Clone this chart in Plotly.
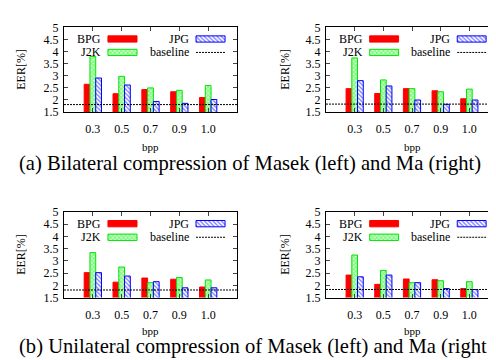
import plotly.graph_objects as go

categories = ["0.3", "0.5", "0.7", "0.9", "1.0"]
series_names = ["BPG", "J2K", "JPG"]

bil_masek_bpg = [2.65, 2.26, 2.43, 2.34, 2.10]
bil_masek_j2k = [3.80, 2.98, 2.50, 2.40, 2.60]
bil_masek_jpg = [2.91, 2.62, 1.94, 1.86, 2.02]
bil_masek_base = 1.81

bil_ma_bpg = [2.47, 2.27, 2.47, 2.38, 2.05]
bil_ma_j2k = [3.74, 2.83, 2.47, 2.34, 2.45]
bil_ma_jpg = [2.80, 2.58, 2.00, 1.82, 2.00]
bil_ma_base = 1.83

uni_masek_bpg = [2.52, 2.13, 2.30, 2.25, 1.93]
uni_masek_j2k = [3.34, 2.75, 2.11, 2.32, 2.22]
uni_masek_jpg = [2.52, 2.38, 2.15, 1.90, 1.90]
uni_masek_base = 1.81

uni_ma_bpg = [2.42, 2.04, 2.26, 2.23, 1.87]
uni_ma_j2k = [3.24, 2.61, 2.11, 2.19, 2.15]
uni_ma_jpg = [2.35, 2.42, 2.11, 1.87, 1.83]
uni_ma_base = 1.83

y_ticks = [1.5, 2, 2.5, 3, 3.5, 4, 4.5, 5]
y_tick_labels = ["1.5", "2", "2.5", "3", "3.5", "4", "4.5", "5"]

captions = ["(a) Bilateral compression of Masek (left) and Ma (right)",
            "(b) Unilateral compression of Masek (left) and Ma (right"]

panels = [
    (bil_masek_bpg, bil_masek_j2k, bil_masek_jpg, bil_masek_base),
    (bil_ma_bpg, bil_ma_j2k, bil_ma_jpg, bil_ma_base),
    (uni_masek_bpg, uni_masek_j2k, uni_masek_jpg, uni_masek_base),
    (uni_ma_bpg, uni_ma_j2k, uni_ma_jpg, uni_ma_base),
]

W, H = 496, 360
FONT = "Liberation Serif"

# pixel frames (left, right, top, bottom)
frames = [(56, 229, 13, 101), (318, 490, 13, 101),
          (56, 229, 205, 294), (318, 490, 205, 294)]

RED = "#ff0000"
GREEN = "#00e600"
BLUE = "#0000ff"

def style(name):
    if name == "BPG":
        return dict(color=RED, line=dict(color=RED, width=1))
    if name == "J2K":
        return dict(color="#ccffcc", line=dict(color=GREEN, width=1),
                    pattern=dict(shape="x", fgcolor="#22ee22", bgcolor="#d8ffd8",
                                 size=3, solidity=0.6))
    return dict(color="white", line=dict(color=BLUE, width=1),
                pattern=dict(shape="\\", fgcolor=BLUE, bgcolor="white",
                             size=3, solidity=0.45))

fig = go.Figure()
xpos = list(range(1, len(categories) + 1))
layout = dict(width=W, height=H, margin=dict(l=0, r=0, t=0, b=0),
              paper_bgcolor="white", plot_bgcolor="white",
              barmode="group", bargap=0.4, bargroupgap=0, showlegend=False,
              font=dict(family=FONT, size=12, color="black"))
annotations = []
shapes = []

for i, (bpg, j2k, jpg, base) in enumerate(panels):
    n = i + 1
    xa = "x" if n == 1 else f"x{n}"
    ya = "y" if n == 1 else f"y{n}"
    l, r, t, b = frames[i]
    dx = [l / W, r / W]
    dy = [1 - b / H, 1 - t / H]
    for name, vals in zip(series_names, [bpg, j2k, jpg]):
        fig.add_trace(go.Bar(x=xpos, y=vals, name=name, marker=style(name),
                             xaxis=xa, yaxis=ya, offsetgroup=name))
    fig.add_trace(go.Scatter(x=[0, len(categories) + 1], y=[base, base], mode="lines",
                             line=dict(color="black", width=1, dash="2px,1px"),
                             xaxis=xa, yaxis=ya, name="baseline"))
    axkey = "xaxis" if n == 1 else f"xaxis{n}"
    aykey = "yaxis" if n == 1 else f"yaxis{n}"
    layout[axkey] = dict(domain=dx, anchor=ya, range=[0, len(categories) + 1],
                         tickvals=xpos, ticktext=categories, ticks="inside", ticklen=4,
                         showline=True, linecolor="black", linewidth=1, mirror="ticks",
                         showgrid=False, zeroline=False, ticklabelstandoff=6,
                         tickfont=dict(family=FONT, size=12))
    layout[aykey] = dict(domain=dy, anchor=xa, range=[1.5, 5],
                         tickvals=y_ticks, ticktext=y_tick_labels, ticks="inside", ticklen=4,
                         showline=True, linecolor="black", linewidth=1, mirror="ticks",
                         showgrid=False, zeroline=False, ticklabelstandoff=2,
                         tickfont=dict(family=FONT, size=12))
    # overlay axes for legend samples
    m = n + 4
    oxa, oya = f"x{m}", f"y{m}"
    layout[f"xaxis{m}"] = dict(overlaying=xa, range=[0, 1], visible=False, fixedrange=True)
    layout[f"yaxis{m}"] = dict(overlaying=ya, range=[0, 1], visible=False, fixedrange=True)
    leg = [("BPG", 0.225, 0.254, 0.864), ("J2K", 0.225, 0.254, 0.705),
           ("JPG", 0.734, 0.763, 0.864)]
    for name, tx, sx, sy in leg:
        fig.add_trace(go.Bar(x=[0.168], y=[sy], base=[sx], orientation="h", width=0.074,
                             offset=-0.037, marker=style(name), xaxis=oxa, yaxis=oya,
                             hoverinfo="skip"))
        annotations.append(dict(xref=f"{xa} domain", yref=f"{ya} domain", x=tx, y=sy,
                                text=name, showarrow=False, xanchor="right", yanchor="middle",
                                font=dict(family=FONT, size=12)))
    annotations.append(dict(xref=f"{xa} domain", yref=f"{ya} domain", x=0.734, y=0.705,
                            text="baseline", showarrow=False, xanchor="right", yanchor="middle",
                            font=dict(family=FONT, size=12)))
    shapes.append(dict(type="line", xref=f"{xa} domain", yref=f"{ya} domain",
                       x0=0.763, x1=0.931, y0=0.705, y1=0.705,
                       line=dict(color="black", width=1, dash="2px,1px")))
    # axis titles
    ex = 13 if i % 2 == 0 else 277
    annotations.append(dict(xref="paper", yref="paper", x=ex / W, y=1 - (t + b) / 2 / H,
                            text="EER[%]", textangle=-90, showarrow=False,
                            xanchor="center", yanchor="middle",
                            font=dict(family=FONT, size=12)))
    by = 137 if i < 2 else 329
    annotations.append(dict(xref="paper", yref="paper", x=(l + r) / 2 / W, y=1 - by / H,
                            text="bpp", showarrow=False, xanchor="center", yanchor="middle",
                            font=dict(family=FONT, size=11)))

annotations.append(dict(xref="paper", yref="paper", x=9 / W, y=1 - 154 / H, text=captions[0],
                        showarrow=False, xanchor="left", yanchor="middle",
                        font=dict(family=FONT, size=20.6)))
annotations.append(dict(xref="paper", yref="paper", x=9 / W, y=1 - 345 / H, text=captions[1],
                        showarrow=False, xanchor="left", yanchor="middle",
                        font=dict(family=FONT, size=20.6)))

layout["annotations"] = annotations
layout["shapes"] = shapes
fig.update_layout(**layout)
fig.write_html("out.html")
